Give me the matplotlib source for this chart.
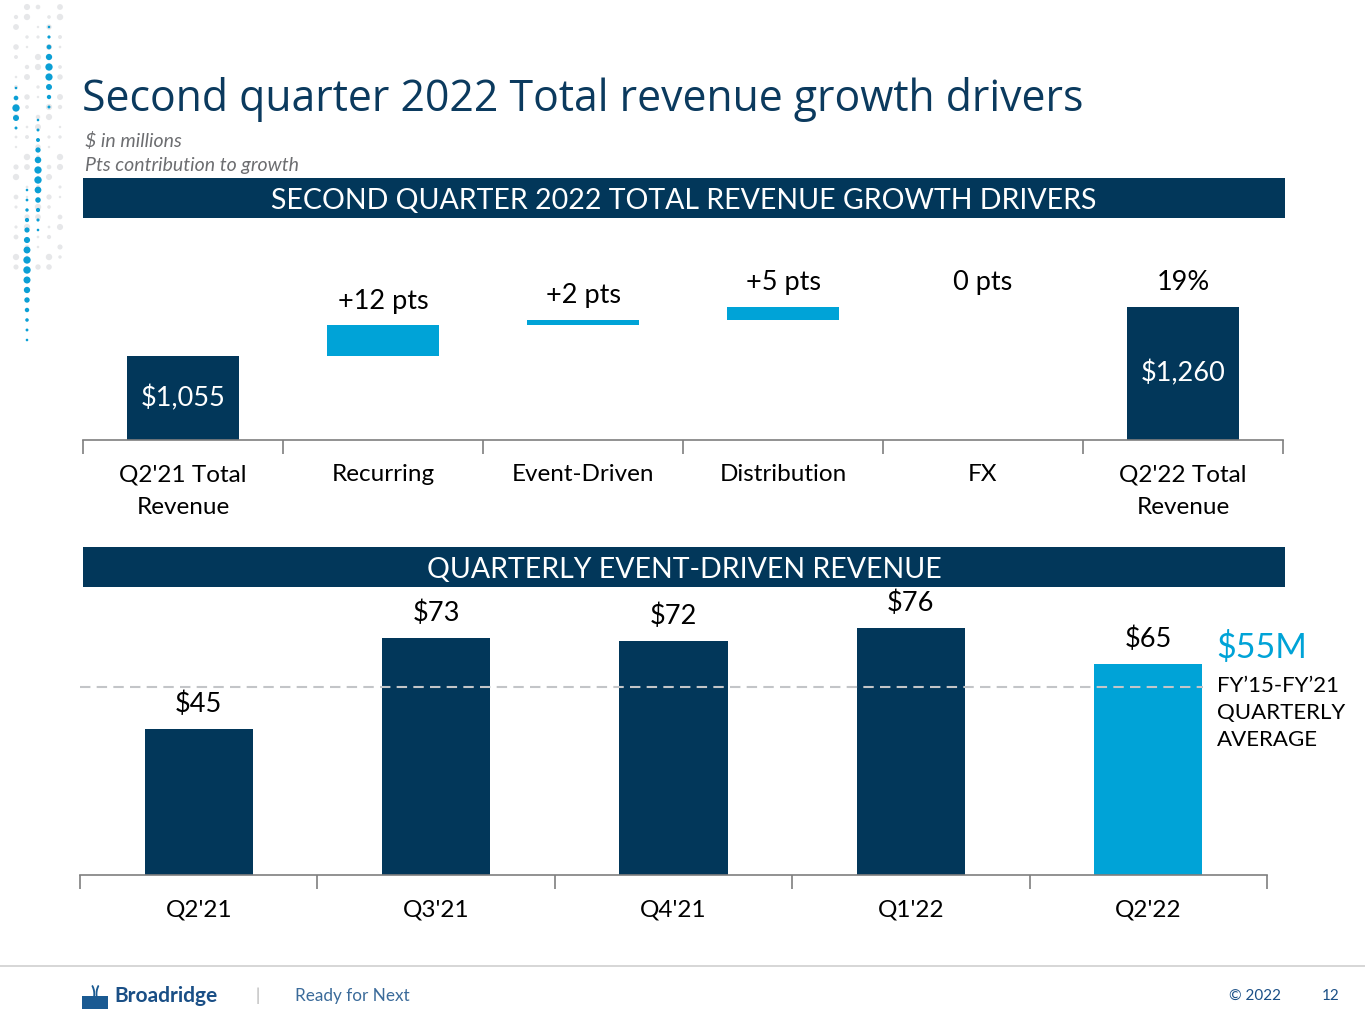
import numpy as np
import matplotlib.pyplot as plt
from matplotlib.patches import Rectangle, Circle

# waterfall: Q2'21 total -> drivers -> Q2'22 total ($M)
wf_labels = ["Q2'21 Total\nRevenue", "Recurring", "Event-Driven", "Distribution", "FX", "Q2'22 Total\nRevenue"]
wf_start = 1055
wf_deltas = [128, 22, 55, 0]
wf_end = 1260
wf_texts = ["+12 pts", "+2 pts", "+5 pts", "0 pts", "19%"]

# quarterly event-driven revenue ($M)
q_labels = ["Q2'21", "Q3'21", "Q4'21", "Q1'22", "Q2'22"]
q_values = [45, 73, 72, 76, 65]
q_avg = 58  # dashed average line as drawn

NAVY = '#02375a'
BLUE = '#00a3d7'
TITLE = '#0b3a5e'
W, H = 1365, 1024

FONT = ['Lato', 'DejaVu Sans']
plt.rcParams['font.family'] = FONT


def rect(l, t, r, b):
    return [l / W, 1 - b / H, (r - l) / W, (b - t) / H]


def fx(x):
    return x / W


def fy(y):
    return 1 - y / H


fig = plt.figure(figsize=(W / 100, H / 100), dpi=100)
fig.patch.set_facecolor('white')

# decorative dot pattern at the left edge
deco = fig.add_axes([0, 0, 1, 1])
deco.set_xlim(0, W)
deco.set_ylim(H, 0)
deco.axis('off')
cols = [16, 27, 38, 49, 60]
for ci, cx in enumerate(cols):
    for ry in range(7, 270, 10):
        if (ry // 10 + ci) % 3 == 0:
            continue
        r = 1.2 + 2.0 * abs(np.sin(ry / 23.0 + ci)) ** 2
        deco.add_patch(Circle((cx, ry), r, color='#e6e7e9', lw=0))
blue_runs = {49: (27, 115), 16: (88, 132), 38: (120, 232), 27: (190, 342)}
for cx, (y0, y1) in blue_runs.items():
    for ry in range(y0, y1, 10):
        r = 1.3 + 2.4 * np.sin(np.pi * (ry - y0) / max(y1 - y0, 1)) ** 2
        deco.add_patch(Circle((cx, ry), r, color='#0b9fd5', lw=0))

# title and subtitles
fig.text(fx(82), fy(100), "Second quarter 2022 Total revenue growth drivers",
         fontsize=30.8, color=TITLE, va='center', ha='left', family=['Open Sans', 'DejaVu Sans'])
fig.text(fx(85), fy(141), "$ in millions", fontsize=14, style='italic', color='#6d6e71', va='center')
fig.text(fx(85), fy(165), "Pts contribution to growth", fontsize=14, style='italic', color='#6d6e71', va='center')

# header bands
for top, txt in [(178, "SECOND QUARTER 2022 TOTAL REVENUE GROWTH DRIVERS"),
                 (547, "QUARTERLY EVENT-DRIVEN REVENUE")]:
    band = fig.add_axes(rect(83, top, 1285, top + 40))
    band.set_facecolor(NAVY)
    band.set_xticks([])
    band.set_yticks([])
    for s in band.spines.values():
        s.set_visible(False)
    band.text(0.5, 0.43, txt, color='white', fontsize=20.5, ha='center', va='center',
              transform=band.transAxes)

# waterfall chart
ax1 = fig.add_axes(rect(83, 230, 1283, 440))
n = len(wf_labels)
x = np.arange(n)
ybot = 703.6
cum = np.cumsum([wf_start] + wf_deltas)
bottoms = [0] + list(cum[:-1]) + [0]
heights = [wf_start] + wf_deltas + [wf_end]
colors = [NAVY] + [BLUE] * len(wf_deltas) + [NAVY]
ax1.bar(x, heights, bottom=bottoms, width=0.56, color=colors, zorder=2)
ax1.set_xlim(-0.5, n - 0.5)
ax1.set_ylim(ybot, 1582)
tops = list(cum[1:]) + [wf_end]
for i, (t, txt) in enumerate(zip(tops, wf_texts), start=1):
    ax1.annotate(txt, xy=(i, t), xytext=(0, 8.5), textcoords='offset points',
                 ha='center', va='bottom', fontsize=19.5, color='black')
ax1.text(0, (ybot + wf_start) / 2, f"${wf_start:,}", ha='center', va='center', color='white', fontsize=19.5)
ax1.text(n - 1, (ybot + wf_end) / 2, f"${wf_end:,}", ha='center', va='center', color='white', fontsize=19.5)
for s in ['top', 'right', 'left']:
    ax1.spines[s].set_visible(False)
ax1.spines['bottom'].set_color('#7f7f7f')
ax1.spines['bottom'].set_linewidth(1.2)
ax1.set_yticks([])
ax1.set_xticks(np.arange(n + 1) - 0.5)
ax1.set_xticklabels([])
ax1.tick_params(axis='x', length=10, color='#7f7f7f', width=1.2)
for i, lab in enumerate(wf_labels):
    ax1.text(i, -0.115, lab, transform=ax1.get_xaxis_transform(), ha='center', va='top',
             fontsize=17.5, linespacing=1.68)

# quarterly event-driven bars
ax2 = fig.add_axes(rect(80, 600, 1267, 875))
m = len(q_labels)
xq = np.arange(m)
qcolors = [NAVY] * (m - 1) + [BLUE]
ax2.bar(xq, q_values, width=0.455, color=qcolors, zorder=2)
ax2.set_xlim(-0.5, m - 0.5)
ax2.set_ylim(0, 84.7)
for i, v in enumerate(q_values):
    ax2.annotate(f"${v}", xy=(i, v), xytext=(0, 8.5), textcoords='offset points',
                 ha='center', va='bottom', fontsize=19.5)
ax2.plot([-0.5, m - 1 + 0.23], [q_avg, q_avg], ls=(0, (5, 3)), color='#c3c5c8', lw=1.5, zorder=3)
for s in ['top', 'right', 'left']:
    ax2.spines[s].set_visible(False)
ax2.spines['bottom'].set_color('#7f7f7f')
ax2.spines['bottom'].set_linewidth(1.2)
ax2.set_yticks([])
ax2.set_xticks(np.arange(m + 1) - 0.5)
ax2.set_xticklabels([])
ax2.tick_params(axis='x', length=10, color='#7f7f7f', width=1.2)
for i, lab in enumerate(q_labels):
    ax2.text(i, -0.09, lab, transform=ax2.get_xaxis_transform(), ha='center', va='top', fontsize=17.5)

# average annotation
fig.text(fx(1216), fy(648), "$55M", color=BLUE, fontsize=24.5, va='center', ha='left')
fig.text(fx(1217), fy(713), "FY\u201915-FY\u201921\nQUARTERLY\nAVERAGE", color='black', fontsize=16,
         va='center', ha='left', linespacing=1.45)

# footer
deco.plot([0, W], [966, 966], color='#d0d0d0', lw=1.2)
deco.add_patch(Rectangle((82, 996), 26, 13, color='#1a5a92', lw=0))
deco.text(95, 994, ")(", color='#1a5a92', fontsize=13, ha='center', va='center', fontweight='bold')
deco.text(114, 996, "Broadridge", color='#1a4f86', fontsize=15, fontweight='bold', va='center', ha='left')
deco.text(258, 996, "|", color='#b0b0b0', fontsize=12, va='center', ha='center')
deco.text(295, 996, "Ready for Next", color='#3b6b9a', fontsize=12.3, va='center', ha='left')
deco.text(1229, 996, "\u00a9 2022", color='#1a4f86', fontsize=11, va='center', ha='left')
deco.text(1322, 996, "12", color='#1a4f86', fontsize=11, va='center', ha='left')

fig.savefig('out.png', dpi=100)
